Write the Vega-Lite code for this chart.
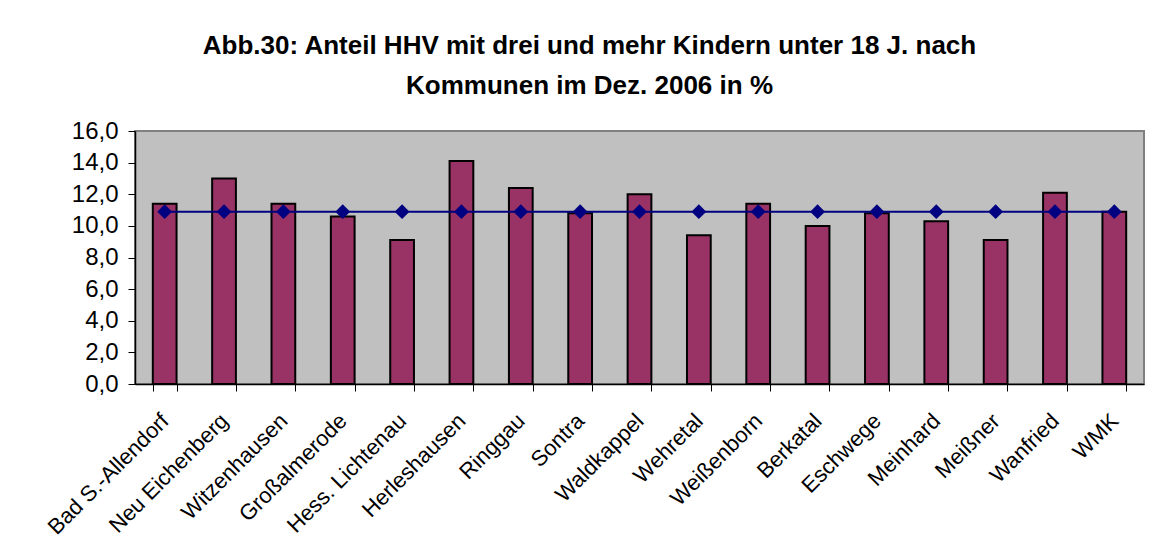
{
  "$schema": "https://vega.github.io/schema/vega-lite/v6.json",
  "width": 1009,
  "height": 253,
  "autosize": {"type": "none"},
  "padding": {"left": 135, "top": 131, "right": 32, "bottom": 167},
  "background": "white",
  "title": {
    "text": ["Abb.30: Anteil HHV mit drei und mehr Kindern unter 18 J.  nach", "Kommunen im Dez. 2006 in %"],
    "font": "Liberation Sans",
    "fontSize": 26,
    "fontWeight": "bold",
    "color": "black",
    "anchor": "middle",
    "frame": "group",
    "dx": -50,
    "offset": 20,
    "lineHeight": 40
  },
  "data": {
    "values": [
      {"kommune": "Bad S.-Allendorf", "anteil": 11.4, "wmk": 10.9},
      {"kommune": "Neu Eichenberg", "anteil": 13.0, "wmk": 10.9},
      {"kommune": "Witzenhausen", "anteil": 11.4, "wmk": 10.9},
      {"kommune": "Großalmerode", "anteil": 10.6, "wmk": 10.9},
      {"kommune": "Hess. Lichtenau", "anteil": 9.1, "wmk": 10.9},
      {"kommune": "Herleshausen", "anteil": 14.1, "wmk": 10.9},
      {"kommune": "Ringgau", "anteil": 12.4, "wmk": 10.9},
      {"kommune": "Sontra", "anteil": 10.8, "wmk": 10.9},
      {"kommune": "Waldkappel", "anteil": 12.0, "wmk": 10.9},
      {"kommune": "Wehretal", "anteil": 9.4, "wmk": 10.9},
      {"kommune": "Weißenborn", "anteil": 11.4, "wmk": 10.9},
      {"kommune": "Berkatal", "anteil": 10.0, "wmk": 10.9},
      {"kommune": "Eschwege", "anteil": 10.8, "wmk": 10.9},
      {"kommune": "Meinhard", "anteil": 10.3, "wmk": 10.9},
      {"kommune": "Meißner", "anteil": 9.1, "wmk": 10.9},
      {"kommune": "Wanfried", "anteil": 12.1, "wmk": 10.9},
      {"kommune": "WMK", "anteil": 10.9, "wmk": 10.9}
    ]
  },
  "encoding": {
    "x": {
      "field": "kommune",
      "type": "nominal",
      "sort": null,
      "scale": {"paddingInner": 0.6, "paddingOuter": 0.3},
      "axis": {
        "title": null,
        "tickBand": "extent",
        "domainColor": "black",
        "domainWidth": 1.5,
        "tickColor": "black",
        "tickSize": 7,
        "tickWidth": 1,
        "labelAngle": -45,
        "labelAlign": "right",
        "labelBaseline": "middle",
        "labelFont": "Liberation Sans",
        "labelFontSize": 22,
        "labelColor": "black",
        "labelPadding": 26,
        "labelDx": -4,
        "labelOverlap": false,
        "labelLimit": 0
      }
    }
  },
  "layer": [
    {
      "mark": {"type": "bar", "color": "#993366", "stroke": "black", "strokeWidth": 2},
      "encoding": {
        "y": {
          "field": "anteil",
          "type": "quantitative",
          "scale": {"domain": [0, 16], "nice": false},
          "axis": {
            "title": null,
            "values": [0, 2, 4, 6, 8, 10, 12, 14, 16],
            "labelExpr": "replace(format(datum.value, '.1f'), '.', ',')",
            "grid": false,
            "domainColor": "black",
            "domainWidth": 1.5,
            "tickColor": "black",
            "tickSize": 7,
            "labelFont": "Liberation Sans",
            "labelFontSize": 24,
            "labelColor": "black",
            "labelPadding": 10,
            "labelOverlap": false
          }
        }
      }
    },
    {
      "mark": {"type": "line", "color": "#000080", "strokeWidth": 2},
      "encoding": {"y": {"field": "wmk", "type": "quantitative", "axis": null}}
    },
    {
      "mark": {"type": "point", "shape": "diamond", "filled": true, "color": "#000080", "size": 220, "opacity": 1},
      "encoding": {"y": {"field": "wmk", "type": "quantitative", "axis": null}}
    }
  ],
  "resolve": {"axis": {"y": "independent"}},
  "config": {
    "view": {"fill": "#C0C0C0", "stroke": "#808080", "strokeWidth": 2}
  }
}
